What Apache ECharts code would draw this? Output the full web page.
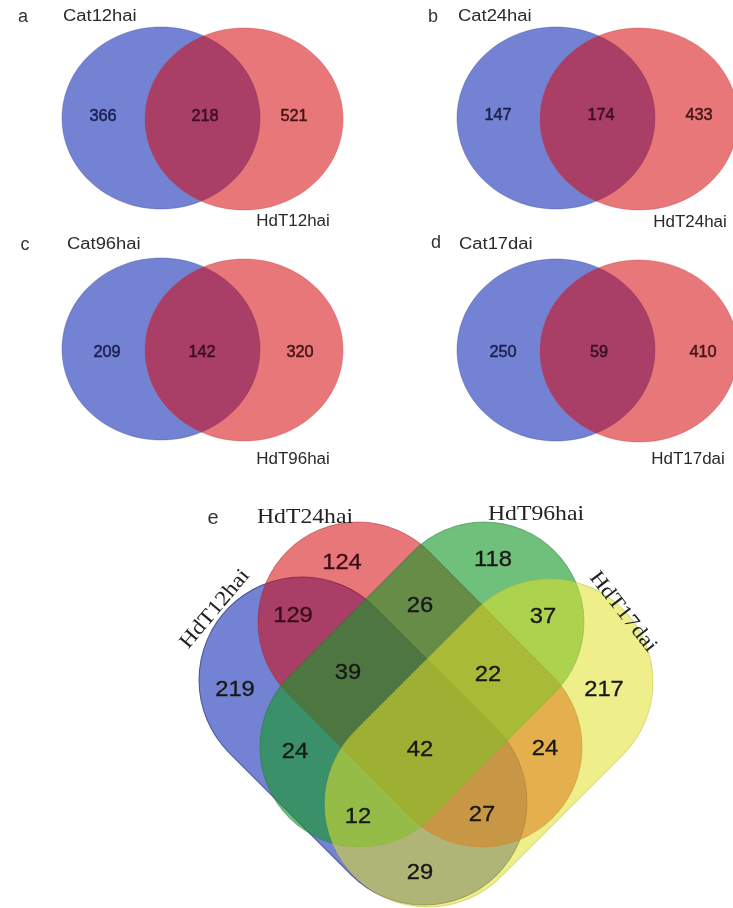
<!DOCTYPE html>
<html>
<head>
<meta charset="utf-8">
<script src="https://cdn.jsdelivr.net/npm/echarts@6/dist/echarts.min.js"></script>
<style>
  html, body { margin: 0; padding: 0; background: #ffffff; }
  #chart { width: 733px; height: 908px; }
</style>
</head>
<body>
<div id="chart"></div>
<script>
// ---- Panels a–d: Cat vs HdT at matching time points ----
const panelTags = ['a', 'b', 'c', 'd'];
const catNames = ['Cat12hai', 'Cat24hai', 'Cat96hai', 'Cat17dai'];
const hdtNames = ['HdT12hai', 'HdT24hai', 'HdT96hai', 'HdT17dai'];
const catOnly = [366, 147, 209, 250];
const shared = [218, 174, 142, 59];
const hdtOnly = [521, 433, 320, 410];

// ---- Panel e: the four HdT time points ----
const quadTag = 'e';
const quadNames = ['HdT12hai', 'HdT24hai', 'HdT96hai', 'HdT17dai'];
// region keys list which sets (1..4) a region belongs to
const quadRegions = ['1', '2', '3', '4', '12', '23', '34', '13', '24', '14', '123', '234', '134', '124', '1234'];
const quadCounts = [219, 124, 118, 217, 129, 26, 37, 24, 24, 29, 39, 22, 12, 27, 42];

// ---- layout (canvas units, y downwards) ----
const pairOrigin = [[0, 0], [395, 0], [0, 231], [395, 232]];
const pairCatCentre = [161, 118];
const pairHdtCentre = [244, 119];
const pairRadius = [99, 91];
const pairTagPos = [[23, 17], [38, 17], [25, 14], [41, 11]];
const pairCatLabelPos = [[63, 17], [63, 17], [67, 14], [64, 13]];
const pairHdtLabelPos = [[293, 222], [295, 223], [293, 229], [293, 228]];
const pairNumX = [[103, 205, 294], [103, 206, 304], [107, 202, 300], [108, 204, 308]];
const pairNumY = [117, 116, 122, 121];

// stadium outlines: cap centre 1, cap centre 2, cap radius
const quadShapes = [
  [[302, 680], [424, 802], 103],
  [[358, 622], [482, 747], 100],
  [[484, 622], [360, 747], 100],
  [[550, 682], [428, 804], 103]
];
const quadFills = ['rgba(22,47,180,0.6)', 'rgba(213,7,13,0.55)', 'rgba(23,153,40,0.62)', 'rgba(224,224,42,0.55)'];
const quadStrokes = ['rgba(30,40,120,0.7)', 'rgba(170,40,50,0.5)', 'rgba(40,120,50,0.5)', 'rgba(190,190,60,0.5)'];
const quadLabelPos = [
  [235, 690], [342, 563], [493, 560], [604, 690],
  [293, 616], [420, 606], [543, 617], [295, 752], [545, 749], [420, 873],
  [348, 673], [488, 675], [358, 817], [482, 815], [420, 750]
];
const quadTagPos = [213, 518];
const quadNamePos = [[215, 609], [305, 517], [536, 514], [623, 612]];
const quadNameRot = [50, 0, 0, -52];

const SANS = '"Liberation Sans", Arial, Helvetica, sans-serif';
const SERIF = '"Liberation Serif", "Times New Roman", serif';

function textEl(pt, str, o) {
  return {
    type: 'text',
    x: pt[0], y: pt[1],
    scaleX: o.sx || 1,
    rotation: (o.rot || 0) * Math.PI / 180,
    z2: 10,
    style: {
      text: str,
      fill: o.color || '#222',
      stroke: o.thick ? (o.color || '#222') : null,
      lineWidth: o.thick || 0,
      fontSize: o.size,
      fontFamily: o.family || SANS,
      fontWeight: o.weight || 'normal',
      align: o.align || 'center',
      textAlign: o.align || 'center',
      verticalAlign: 'middle',
      textVerticalAlign: 'middle'
    }
  };
}

function renderPair(params, api) {
  const i = api.value(0);
  const o = pairOrigin[i];
  const p = (q) => api.coord([o[0] + q[0], o[1] + q[1]]);
  const r = api.size(pairRadius);
  const c1 = p(pairCatCentre), c2 = p(pairHdtCentre);
  const y = pairNumY[i];
  return {
    type: 'group',
    children: [
      { type: 'ellipse', shape: { cx: c1[0], cy: c1[1], rx: r[0], ry: r[1] },
        style: { fill: 'rgba(22,47,180,0.6)', stroke: 'rgba(60,70,160,0.35)', lineWidth: 1 } },
      { type: 'ellipse', shape: { cx: c2[0], cy: c2[1], rx: r[0], ry: r[1] },
        style: { fill: 'rgba(213,7,13,0.55)', stroke: 'rgba(200,60,70,0.35)', lineWidth: 1 } },
      textEl(p(pairTagPos[i]), panelTags[i], { size: 18, color: '#333' }),
      textEl(p(pairCatLabelPos[i]), catNames[i], { size: 16, sx: 1.15, align: 'left', color: '#2a2a2a' }),
      textEl(p(pairHdtLabelPos[i]), hdtNames[i], { size: 16, sx: 1.06, color: '#2a2a2a' }),
      textEl(p([pairNumX[i][0], y]), String(catOnly[i]), { size: 16, sx: 1.02, color: '#1c2050', thick: 0.5 }),
      textEl(p([pairNumX[i][1], y]), String(shared[i]), { size: 16, sx: 1.02, color: '#3a0e24', thick: 0.5 }),
      textEl(p([pairNumX[i][2], y]), String(hdtOnly[i]), { size: 16, sx: 1.02, color: '#461414', thick: 0.5 })
    ]
  };
}

function renderQuadShape(params, api) {
  const i = api.value(0);
  const [a, b, rad] = quadShapes[i];
  const pa = api.coord(a), pb = api.coord(b);
  const r = api.size([rad, rad])[0];
  const dx = pb[0] - pa[0], dy = pb[1] - pa[1];
  const len = Math.sqrt(dx * dx + dy * dy);
  const w = len + 2 * r, h = 2 * r;
  return {
    type: 'rect',
    x: (pa[0] + pb[0]) / 2,
    y: (pa[1] + pb[1]) / 2,
    rotation: -Math.atan2(dy, dx),
    shape: { x: -w / 2, y: -h / 2, width: w, height: h, r: r },
    style: { fill: quadFills[i], stroke: quadStrokes[i], lineWidth: 1 }
  };
}

function renderQuadCount(params, api) {
  const i = api.value(0);
  const region = quadRegions[i];
  const tint = (region === '2' || region === '12') ? '#3a0c16' : '#161616';
  return textEl(api.coord(quadLabelPos[i]), String(quadCounts[i]), { size: 22, sx: 1.08, color: tint, thick: 0.3 });
}

function renderQuadNames(params, api) {
  const children = quadNames.map((n, i) =>
    textEl(api.coord(quadNamePos[i]), n, { size: 21, sx: 1.13, family: SERIF, rot: quadNameRot[i], color: '#222' }));
  children.push(textEl(api.coord(quadTagPos), quadTag, { size: 20, color: '#333' }));
  return { type: 'group', children };
}

const chart = echarts.init(document.getElementById('chart'), null, { renderer: 'canvas' });
chart.setOption({
  backgroundColor: '#ffffff',
  animation: false,
  grid: { left: 0, right: 0, top: 0, bottom: 0 },
  xAxis: { type: 'value', min: 0, max: 733, show: false },
  yAxis: { type: 'value', min: 0, max: 908, inverse: true, show: false },
  series: [
    { type: 'custom', name: 'pairs', renderItem: renderPair,
      data: panelTags.map((t, i) => [i, 0]) },
    { type: 'custom', name: 'quad', renderItem: renderQuadShape,
      data: quadNames.map((n, i) => [i, 0]) },
    { type: 'custom', name: 'quad counts', renderItem: renderQuadCount,
      data: quadCounts.map((v, i) => [i, v]), z: 3 },
    { type: 'custom', name: 'quad names', renderItem: renderQuadNames,
      data: [[0, 0]], z: 3 }
  ]
});
</script>
</body>
</html>
